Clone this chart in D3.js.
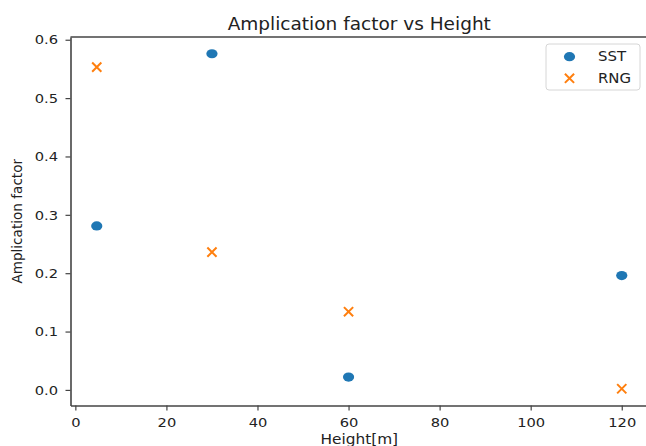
<!DOCTYPE html>
<html>
<head>
<meta charset="utf-8">
<script src="https://cdn.jsdelivr.net/npm/d3@7"></script>
<style>
  body { margin: 0; background: #fff; }
  svg text { font-family: "DejaVu Sans", sans-serif; fill: #222; }
</style>
</head>
<body>
<div id="chart"></div>
<script>
// heights [m] and amplification factors
var heights = [4.7, 30, 60, 120];
var sstValues = [0.281, 0.576, 0.022, 0.196];
var rngValues = [0.553, 0.236, 0.134, 0.002];
var seriesNames = ['SST', 'RNG'];
var xTicks = [0, 20, 40, 60, 80, 100, 120];
var yTicks = [0, 0.1, 0.2, 0.3, 0.4, 0.5, 0.6];

var fullWidth = 646;
var fullHeight = 446;
var plot = {left: 70.5, right: 648, top: 37, bottom: 405.5};
var stretch = 1.13; // the picture is a bit wider than tall

var blue = '#1f77b4';
var orange = '#ff7f0e';

// autoscale with 5% padding, like matplotlib does
function padded(values) {
  var ext = d3.extent(values);
  var pad = (ext[1] - ext[0]) * 0.05;
  return [ext[0] - pad, ext[1] + pad];
}

var x = d3.scaleLinear().domain(padded(heights)).range([plot.left, plot.right]);
var y = d3.scaleLinear().domain(padded(sstValues.concat(rngValues))).range([plot.bottom, plot.top]);

var svg = d3.select('#chart').append('svg')
  .attr('width', fullWidth)
  .attr('height', fullHeight);

// axes
var xAxis = svg.append('g')
  .attr('transform', 'translate(0,' + plot.bottom + ')')
  .call(d3.axisBottom(x).tickValues(xTicks).tickSize(5).tickSizeOuter(0).tickPadding(7));

var yAxis = svg.append('g')
  .attr('transform', 'translate(' + plot.left + ',0)')
  .call(d3.axisLeft(y).tickValues(yTicks).tickFormat(d3.format('.1f')).tickSize(5).tickSizeOuter(0).tickPadding(6));

[xAxis, yAxis].forEach(function(ax) {
  ax.select('.domain').attr('stroke', '#444').attr('stroke-width', 1.6);
  ax.selectAll('.tick line').attr('stroke', '#444').attr('stroke-width', 1.2);
  ax.selectAll('.tick text')
    .style('font-size', '13px')
    .attr('fill', '#222')
    .attr('transform', 'scale(' + stretch + ',1)');
});

// top and right spines
svg.append('line')
  .attr('x1', plot.left).attr('x2', plot.right)
  .attr('y1', plot.top).attr('y2', plot.top)
  .attr('stroke', '#444').attr('stroke-width', 1.6);
svg.append('line')
  .attr('x1', plot.right).attr('x2', plot.right)
  .attr('y1', plot.top).attr('y2', plot.bottom)
  .attr('stroke', '#444').attr('stroke-width', 1.6);

// title and axis labels
svg.append('text')
  .attr('transform', 'translate(' + ((plot.left + plot.right) / 2) + ',30)')
  .attr('text-anchor', 'middle')
  .style('font-size', '18.5px')
  .text('Amplication factor vs Height');

svg.append('text')
  .attr('transform', 'translate(' + ((plot.left + plot.right) / 2) + ',444) scale(' + stretch + ',1)')
  .attr('text-anchor', 'middle')
  .style('font-size', '13.6px')
  .text('Height[m]');

svg.append('text')
  .attr('transform', 'translate(22,' + ((plot.top + plot.bottom) / 2) + ') rotate(-90)')
  .attr('text-anchor', 'middle')
  .style('font-size', '13.6px')
  .text('Amplication factor');

// markers
function drawDot(g, cx, cy) {
  g.append('ellipse')
    .attr('cx', cx).attr('cy', cy)
    .attr('rx', 5.6).attr('ry', 4.6)
    .attr('fill', blue);
}
function drawCross(g, cx, cy) {
  var s = 4.6;
  g.append('path')
    .attr('d', 'M' + (cx - s) + ',' + (cy - s) + 'L' + (cx + s) + ',' + (cy + s) +
               'M' + (cx - s) + ',' + (cy + s) + 'L' + (cx + s) + ',' + (cy - s))
    .attr('stroke', orange)
    .attr('stroke-width', 2)
    .attr('fill', 'none');
}

var marks = svg.append('g');
for (var i = 0; i < heights.length; i++) {
  drawDot(marks, x(heights[i]), y(sstValues[i]));
}
for (var j = 0; j < heights.length; j++) {
  drawCross(marks, x(heights[j]), y(rngValues[j]));
}

// legend
var legend = svg.append('g');
legend.append('rect')
  .attr('x', 546).attr('y', 44)
  .attr('width', 94).attr('height', 46)
  .attr('rx', 3)
  .attr('fill', '#fff').attr('fill-opacity', 0.8)
  .attr('stroke', '#d6d6d6').attr('stroke-width', 1);

drawDot(legend, 569.5, 56.7);
drawCross(legend, 569.5, 78.3);

legend.selectAll('.legend-label').data(seriesNames)
  .enter().append('text')
    .attr('class', 'legend-label')
    .attr('transform', function(d, k) { return 'translate(598,' + (56.7 + k * 21.6) + ') scale(' + stretch + ',1)'; })
    .attr('dy', '0.36em')
    .style('font-size', '13.2px')
    .text(function(d) { return d; });
</script>
</body>
</html>
